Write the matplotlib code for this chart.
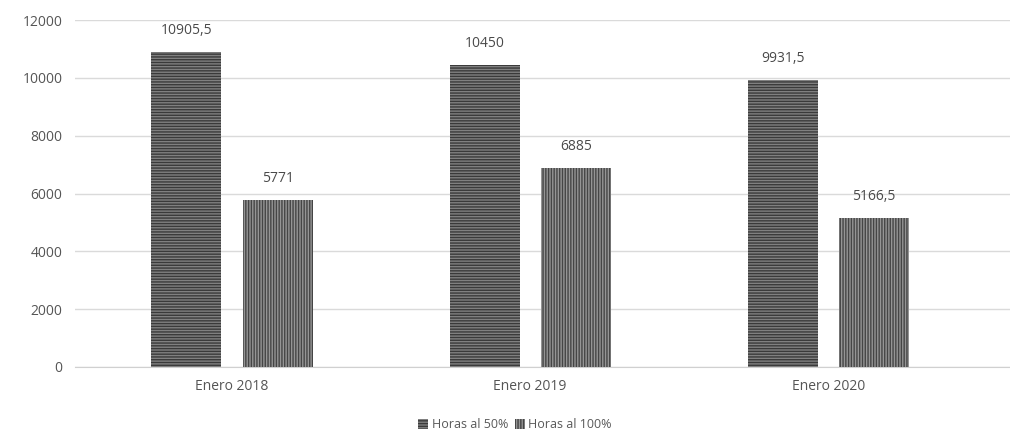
import matplotlib.pyplot as plt
import numpy as np

OUTPUT = "out.png"

categories = ["Enero 2018", "Enero 2019", "Enero 2020"]
horas_50 = [10905.5, 10450, 9931.5]
horas_100 = [5771, 6885, 5166.5]
series_names = ["Horas al 50%", "Horas al 100%"]
yticks = [0, 2000, 4000, 6000, 8000, 10000, 12000]


def fmt(v):
    # Spanish style decimal comma
    if float(v).is_integer():
        return f"{int(v)}"
    return f"{v}".replace(".", ",")


plt.rcParams["font.family"] = ["Open Sans", "DejaVu Sans"]
plt.rcParams["hatch.linewidth"] = 1.0

fig = plt.figure(figsize=(10.1, 4.41), dpi=100)
ax = fig.add_axes([75 / 1010, 1 - 367 / 441, (1010 - 75) / 1010, (367 - 20) / 441])

x = np.arange(len(categories))
width = 0.235
offset = 0.153

b1 = ax.bar(x - offset, horas_50, width, facecolor="#808080", edgecolor="#3a3a3a",
            hatch="------", linewidth=0, label=series_names[0], zorder=3)
b2 = ax.bar(x + offset, horas_100, width, facecolor="#959595", edgecolor="#454545",
            hatch="||||||", linewidth=0, label=series_names[1], zorder=3)

for bars, vals in ((b1, horas_50), (b2, horas_100)):
    for rect, v in zip(bars, vals):
        ax.annotate(fmt(v), (rect.get_x() + rect.get_width() / 2, rect.get_height()),
                    xytext=(0, 10), textcoords="offset points", ha="center", va="bottom",
                    fontsize=10, color="#4a4a4a")

ax.set_xlim(-0.527, 2.61)
ax.set_ylim(0, 12000)
ax.set_yticks(yticks)
ax.set_yticklabels([str(t) for t in yticks])
ax.set_xticks(x)
ax.set_xticklabels(categories)
ax.tick_params(axis="both", length=0, labelsize=10, colors="#555555")
ax.tick_params(axis="y", pad=9)
ax.tick_params(axis="x", pad=9)
ax.grid(axis="y", color="#dadada", linewidth=1, zorder=0)
for s in ("top", "right", "left"):
    ax.spines[s].set_visible(False)
ax.spines["bottom"].set_color("#d0d0d0")

fig.legend(handles=[b1, b2], loc="center", bbox_to_anchor=(515 / 1010, 1 - 425 / 441),
           ncol=2, frameon=False, fontsize=9, handlelength=0.8, handleheight=0.8,
           handletextpad=0.3, columnspacing=0.5, labelcolor="#595959")

plt.savefig(OUTPUT, dpi=100)
